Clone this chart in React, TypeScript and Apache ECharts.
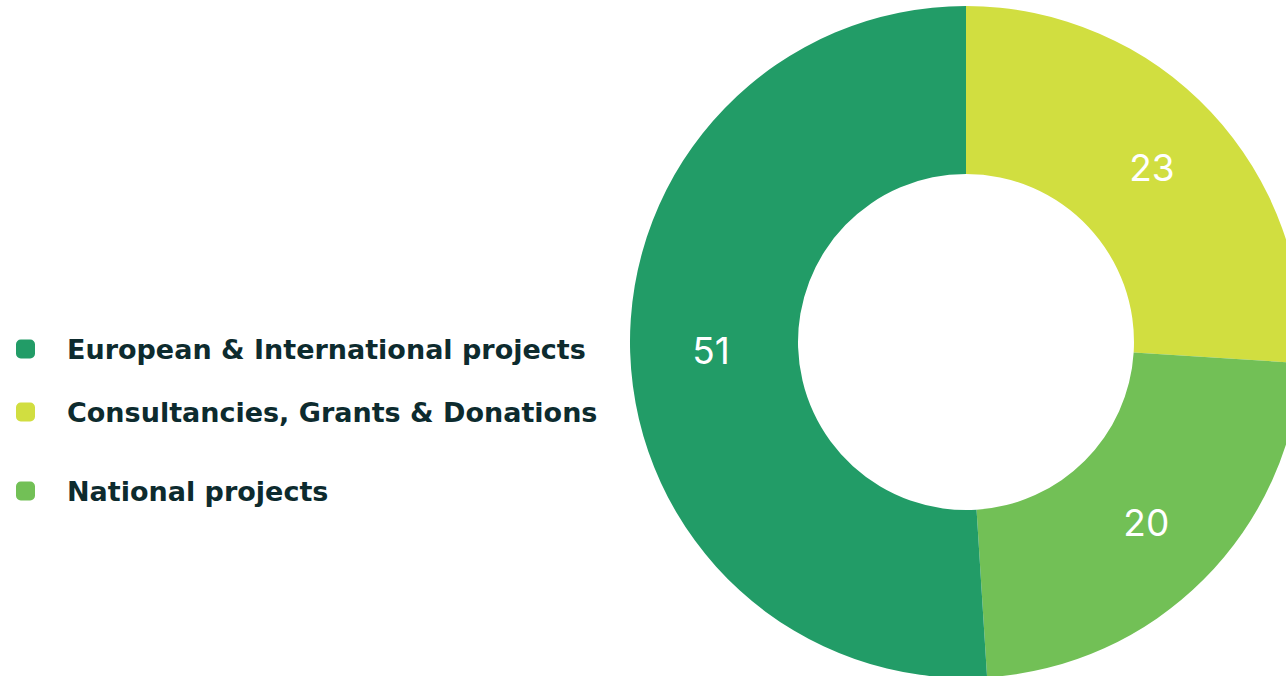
import React, { useEffect, useRef } from "react";
import * as echarts from "echarts";

// Categories in slice order (clockwise from 12 o'clock)
const categories = [
  "Consultancies, Grants & Donations",
  "National projects",
  "European & International projects",
];
// Value labels printed on the slices
const labelValues = [23, 20, 51];
// Slice shares
const shares = [26, 23, 51];
const colors = ["#D1DE40", "#72C056", "#229C67"];
// Legend order (top to bottom)
const legendOrder = [
  "European & International projects",
  "Consultancies, Grants & Donations",
  "National projects",
];
const legendTops = [333, 396, 475];

export default function App() {
  const ref = useRef<HTMLDivElement>(null);
  useEffect(() => {
    if (!ref.current) return;
    const chart = echarts.init(ref.current, undefined, { renderer: "svg" });
    const legends = legendOrder.map((name, i) => ({
      data: [name],
      left: 16,
      top: legendTops[i],
      padding: 0,
      orient: "vertical",
      icon: "roundRect",
      itemWidth: 19,
      itemHeight: 19,
      itemGap: 0,
      selectedMode: false,
      textStyle: {
        color: "#0D2B2E",
        fontFamily: "DejaVu Sans",
        fontWeight: "bold",
        fontSize: 27,
        lineHeight: 32,
        padding: [0, 0, 0, 27],
      },
    }));
    chart.setOption({
      animation: false,
      backgroundColor: "#ffffff",
      legend: legends,
      series: [
        {
          type: "pie",
          center: [966, 342],
          radius: [168, 336],
          startAngle: 90,
          clockwise: true,
          avoidLabelOverlap: false,
          silent: true,
          label: {
            show: true,
            position: "inside",
            color: "#ffffff",
            fontFamily: "Inter",
            fontSize: 37,
            formatter: (p: any) => String(labelValues[p.dataIndex]),
          },
          labelLine: { show: false },
          data: categories.map((name, i) => ({
            name,
            value: shares[i],
            itemStyle: { color: colors[i] },
          })),
        },
      ],
    });
    return () => chart.dispose();
  }, []);
  return (
    <div
      ref={ref}
      style={{ position: "fixed", left: 0, top: 0, width: 1286, height: 676 }}
    />
  );
}
